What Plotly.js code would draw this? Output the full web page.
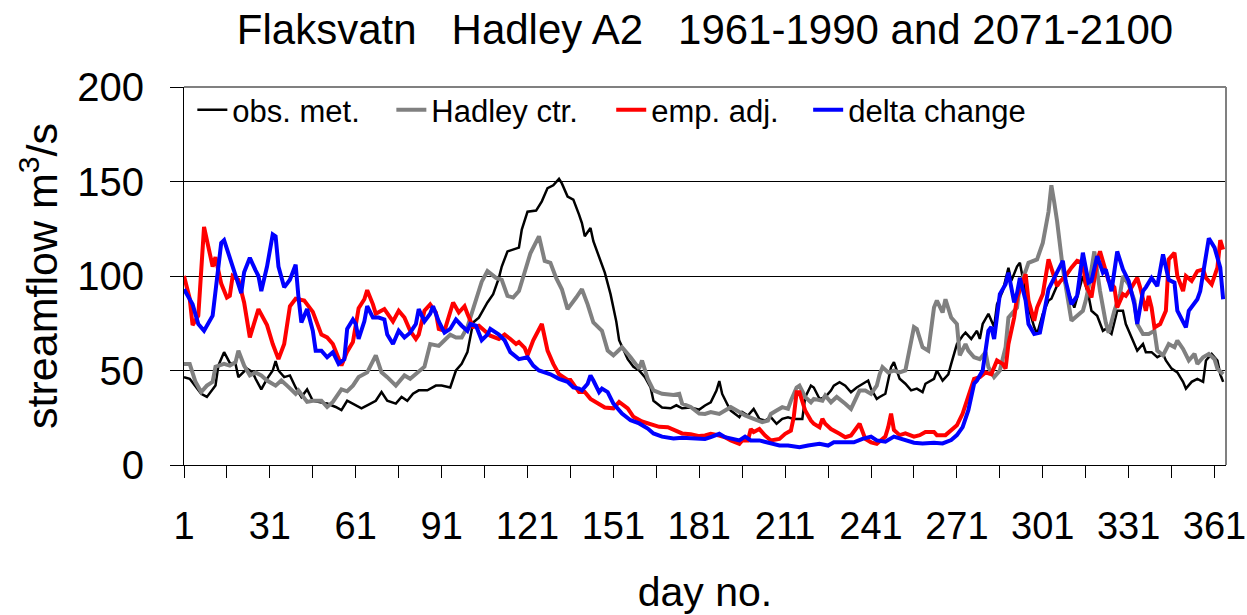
<!DOCTYPE html>
<html>
<head>
<meta charset="utf-8">
<script src="https://cdn.plot.ly/plotly-3.0.1.min.js"></script>
<style>html,body{margin:0;padding:0;background:#fff;}#chart{width:1247px;height:615px;}</style>
</head>
<body>
<div id="chart"></div>
<script>
// ---- data ----
const chartTitle = "Flaksvatn\u00a0\u00a0\u00a0Hadley A2\u00a0\u00a0\u00a01961-1990 and 2071-2100";
const seriesNames = ["obs. met.", "Hadley ctr.", "emp. adj.", "delta change"];
const xTickDays = [1, 31, 61, 91, 121, 151, 181, 211, 241, 271, 301, 331, 361];
const yTickValues = [0, 50, 100, 150, 200];

const obsDays = [1,3,7,9,12,13,15,17,19,20,23,25,26,28,30,32,33,34,36,38,40,42,44,46,49,51,54,56,58,60,63,65,68,70,72,75,77,79,81,83,86,89,91,94,96,98,100,102,104,107,109,111,112,114,118,119,121,124,126,128,130,132,133,135,137,139,140,141,143,144,146,148,150,152,153,156,158,160,162,164,165,168,171,173,175,178,181,183,185,187,188,189,191,192,195,196,198,200,202,204,206,208,210,212,214,217,218,220,221,223,225,227,228,230,232,234,236,238,240,241,243,244,246,248,249,251,253,255,257,259,260,263,264,266,268,269,271,273,274,276,278,279,280,282,284,285,287,289,290,292,293,294,296,298,299,301,303,304,306,308,310,312,313,315,317,318,320,322,323,325,327,329,330,332,334,336,337,339,341,343,344,346,348,350,351,353,355,357,358,360,362,363,364];
const obsFlow = [46.5,45.6,37.7,36,42,52.6,59.7,54,53.5,46.5,51,49,45.6,40,45.6,50,55,50,46.5,47.4,41,36,40,34,33,32.5,30.7,29,34,32.5,30,31.6,34,38.6,34,32.5,36,34,37.7,39.5,39.5,42,42,41,50,53.5,59.7,75.4,78,86,90.4,99,105,113,115,124.6,134,134.6,139.5,146.5,148,151.4,149,142,140.4,132.5,128,121,125.4,118.4,109.6,101.8,90.4,76,66,56,52,50,46.5,41,34,30.4,30,31.6,30,30.4,29.3,31.5,33.2,39.4,44.4,37.6,31.5,28.8,25.3,28,26.2,29.7,24.4,23.5,25.3,21.8,24.4,25.3,24.4,24.4,35.9,42,41,35,35.9,39.4,42,43.8,42,38.5,41,43,44.7,40.3,35,36,37.7,51.8,54.4,45.6,43,39.5,40.4,38.6,43,45.6,50,44.7,48,53.5,64,68.4,70,66.7,71,66.7,74.6,80,73,85,92,104.4,97.4,105,107,99,83.3,73,69.3,80,87,88,95,99,91,83.3,88.6,100,89.5,81.6,79,71,72,69.3,81.6,81.6,74.6,67.5,60.5,64,59.7,59.7,57,58.8,55.3,51,49,44,40.4,44,45.6,44,55.3,58.8,55.3,48,44];

const hadDays = [1,3,5,7,9,11,12,15,17,19,20,22,24,26,28,30,33,35,37,40,41,44,46,49,51,53,56,58,60,62,65,66,68,70,72,75,78,80,82,85,87,90,92,94,96,98,100,103,105,107,110,112,114,116,118,120,122,125,127,129,131,133,135,138,140,142,144,147,149,151,154,157,160,161,163,165,168,172,174,175,178,181,183,185,188,190,192,195,197,200,203,205,206,208,210,212,213,215,216,218,220,221,224,225,227,229,231,232,234,237,239,241,243,244,245,247,249,251,253,254,256,257,259,261,263,264,266,267,269,271,272,274,275,277,279,281,282,284,286,288,289,292,293,295,296,299,301,303,304,305,306,308,310,311,313,315,316,317,319,321,323,324,326,328,329,331,333,334,336,338,340,341,343,345,347,348,350,352,354,355,357,359,361,362,364];
const hadFlow = [53.5,53.5,44,38.6,42,44,52,53.5,52.6,54.4,60.5,52.6,47.4,49,47.4,44.7,42,44.7,42,37.7,39.5,33.4,34,34,30.7,33.4,40,39,42,46.5,49,52,58,49,46.5,42,47.4,45.6,48,52,64,63,66,69,67.5,67.5,73,87,97,102.6,99,98,89.5,88.6,92,102,112,121,108,107,99,93,82.5,88.6,93,85,75.4,71,60.5,58,62.3,57,51,55.3,45.6,39.5,37.7,37,37.7,32.5,30.7,27.2,27,28,27,28.8,30.6,28,26.2,24.4,22.7,23.5,27,28.8,30.6,29.7,34,41,42,36,33.2,35,34,36.8,33.2,36,34,32.4,29.7,39.4,39.4,37.6,42,48,51.8,49,50,49,50,58,73,72,62.3,60.5,83.3,87,80.7,87.7,78,74.6,58,64,60.5,57,56,59.7,51.8,46.5,50,62.3,78,83.3,95.6,102.6,107,108.8,117.5,134,148,139,129,104,87,76.3,79,81.6,87,94,113,92,75.4,70,81.6,90.4,100,95.6,87,74.6,69.3,69.3,71,60.5,58,64,62.3,65.8,61.4,55.3,58.8,53.5,57,58.8,56,51,48];

const empDays = [1,3,4,6,8,11,12,14,16,17,18,20,22,24,27,30,32,34,36,38,40,43,46,49,51,53,56,58,60,62,64,65,67,68,71,72,74,76,78,80,82,83,85,87,89,90,92,93,95,97,99,100,102,104,106,108,111,113,115,117,118,120,121,123,126,128,130,132,135,136,139,141,143,146,148,151,153,156,158,161,164,167,170,172,175,178,181,183,185,188,190,192,195,196,198,199,200,202,204,206,209,211,213,214,215,216,218,220,221,223,224,225,227,230,232,234,236,237,239,241,243,244,246,247,248,249,251,253,256,258,260,263,264,267,269,271,273,275,277,279,281,283,285,287,288,289,291,292,294,295,296,298,299,301,303,305,306,307,309,311,313,315,316,318,320,321,322,324,326,327,329,330,332,334,335,337,338,339,340,342,344,345,347,348,350,351,353,355,357,358,360,362,363,364];
const empFlow = [100,88,74,79,126,105,110,96,88.6,89.5,100,98,86,67.5,82.5,74,64,56,64,84,88,87,81,69,67.5,64,52.6,60,65,83,87.7,92.5,85,80,82.5,80,76,81.6,78,71,66.7,69,81.6,85,80.7,72,71,76,86,80.7,84,80,73,73.7,71,68.4,66.7,69,66.7,64,65,62,58,66,74.6,60.5,53.5,48,45,45,38.6,38.6,35,32.5,30.4,30,33.4,30,25.5,23,21.6,20.2,20,18.5,16.7,16.3,15.3,15.6,16.5,15.6,14.7,13,11.2,13,13,19,17.4,19,15.6,13,13.8,16.5,18.2,25.3,38.5,38.5,28.8,23.5,21.8,20,24.4,21.8,19,16.5,14.7,15.6,20,21.8,13.8,12,11.2,12.3,15,20,27.2,18.5,15.8,16.7,15,15.8,17.5,17.5,15.8,15.8,18.5,21,27.2,36,45.6,46.5,49,48,55.3,53.5,51,64,78,88.6,97.4,101,87,76.3,83.3,90.4,108.8,99,94.7,97,100,104.4,108,107,95.6,88.6,108,113,108,97.4,94,83.3,90.4,89.5,94,99,94,81.6,89.5,83.3,72.8,74.6,81.6,108.8,112.3,100,92,100,97.4,102.6,103.5,99,95.6,104.4,119,114];

const deltaDays = [1,4,6,8,11,12,14,15,18,19,21,22,24,26,27,28,30,32,33,34,36,38,40,41,42,43,44,46,47,49,51,53,55,57,58,60,61,62,64,65,67,69,71,72,74,76,78,80,82,83,85,87,88,90,92,94,96,98,100,101,103,105,107,108,111,113,115,118,121,123,125,129,132,135,137,139,140,142,143,144,146,147,149,151,154,157,160,163,165,168,172,175,179,181,183,185,188,190,193,195,197,199,202,205,209,212,216,219,223,226,228,232,235,238,241,243,246,249,251,253,256,259,263,266,269,271,273,275,277,278,280,281,282,283,284,286,288,289,291,292,293,295,296,298,300,302,303,305,308,309,311,313,315,317,318,320,322,323,325,327,329,331,333,334,336,337,339,341,343,345,347,348,351,352,355,356,358,359,361,363,364];
const deltaFlow = [93,85,74.6,71,79,93,117.5,119,105,101,91,102,109.6,103,100,92,105,122,121,105,94,98,106,88.6,75.4,79,82.5,71,60.5,60.5,57,59.7,53.5,56,72,77,74.6,66.7,76,84,78,78,77,69,64,71,67.5,70,74.6,82.5,76,80,84,76,70,72,77,73.7,71,74.6,73.7,66,69,72,69,66,59.7,56,57,52.6,50,48,45.6,44,41,40.4,39.5,43,47.4,44.7,38.6,40.4,38.6,32.5,27.2,23.7,22,19.3,16.7,15,14,14.4,14,13.5,13.8,14.7,16.5,14.7,13.8,13,15,13,13,12,10.3,10.3,9.4,10.3,11.2,10.3,12,12,12,13.8,15,13,12.3,15,14,13.2,11.8,11.4,11.8,11.4,13.2,15.8,20,29,43,44.7,50,60.5,71,73,66.7,90.4,95.6,101.8,86,91,99,87,74.6,69.3,70,85,93,99,108,97.4,85,89.5,112.3,96.5,97.4,110.5,101.8,103.5,92,113,103.5,97.4,85,74.6,92,94,99,94.7,111.4,98,96.5,81.6,72.8,81.6,87.7,92,113,120,115,104.4,87.7];

// ---- chart ----
const FONT = "Liberation Sans, Arial, Helvetica, sans-serif";
const colors = ["#000000", "#808080", "#ff0000", "#0000ff"];
const widths = [2.5, 4, 4, 4];
const xs = [obsDays, hadDays, empDays, deltaDays];
const ys = [obsFlow, hadFlow, empFlow, deltaFlow];
const legendIds = ["legend", "legend2", "legend3", "legend4"];
const legendX = [0.008, 0.199, 0.410, 0.599];

const traces = seriesNames.map((name, i) => ({
  type: "scatter", mode: "lines", name: name,
  x: xs[i], y: ys[i],
  line: {color: colors[i], width: widths[i]},
  legend: legendIds[i],
  hoverinfo: "skip"
}));

const layout = {
  width: 1247, height: 615,
  paper_bgcolor: "#ffffff", plot_bgcolor: "#ffffff",
  font: {family: FONT, color: "#000000"},
  margin: {l: 184, r: 21, t: 87, b: 150, pad: 0},
  title: {text: chartTitle, font: {family: FONT, size: 42, color: "#000"},
          x: 0.5, xref: "paper", xanchor: "center", y: 0.953, yref: "container", yanchor: "middle"},
  xaxis: {
    range: [1, 365], tickmode: "array", tickvals: xTickDays, ticktext: xTickDays.map(String),
    ticks: "outside", ticklen: 12, tickcolor: "#000", tickwidth: 1,
    tickfont: {family: FONT, size: 38, color: "#000"}, ticklabelstandoff: 15,
    ticklabeloverflow: "allow",
    showline: true, linecolor: "#000", linewidth: 1,
    showgrid: false, zeroline: false,
    minor: {tickmode: "linear", tick0: 1, dtick: 15, ticks: "outside", ticklen: 12, tickcolor: "#000", tickwidth: 1, showgrid: false},
    title: {text: "day no.", font: {family: FONT, size: 41, color: "#000"}, standoff: 38}
  },
  yaxis: {
    range: [0, 200], tickmode: "array", tickvals: yTickValues,
    ticks: "outside", ticklen: 13, tickcolor: "#000", tickwidth: 1,
    tickfont: {family: FONT, size: 40, color: "#000"}, ticklabelstandoff: 18,
    showline: true, linecolor: "#000", linewidth: 1,
    showgrid: true, gridcolor: "#000", gridwidth: 1, zeroline: false,
    title: {text: "streamflow m<sup>3</sup>/s", font: {family: FONT, size: 43, color: "#000"}, standoff: 6}
  },
  shapes: [
    {type: "line", xref: "paper", yref: "paper", x0: 0, x1: 1, y0: 1, y1: 1, line: {color: "#808080", width: 2}},
    {type: "line", xref: "paper", yref: "paper", x0: 1, x1: 1, y0: 0, y1: 1, line: {color: "#808080", width: 2}}
  ],
  showlegend: true
};
legendIds.forEach((id, i) => {
  layout[id] = {
    x: legendX[i], xanchor: "left", y: 0.939, yanchor: "middle",
    orientation: "h", bgcolor: "rgba(0,0,0,0)", borderwidth: 0,
    font: {family: FONT, size: 31, color: "#000"}
  };
});

Plotly.newPlot("chart", traces, layout, {displayModeBar: false, staticPlot: true});
</script>
</body>
</html>
